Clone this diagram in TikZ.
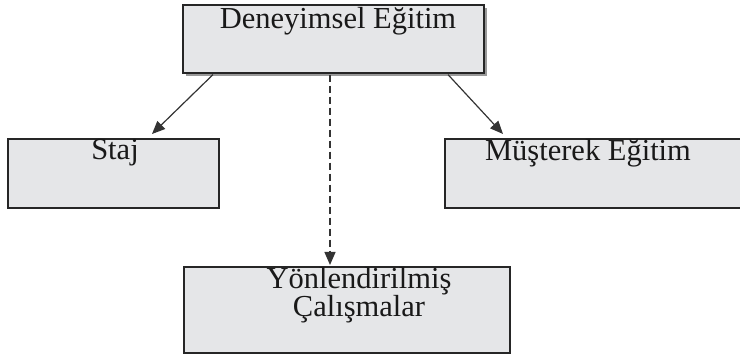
\documentclass[tikz,border=0pt]{standalone}
\usepackage{fontspec}
\setmainfont{Liberation Serif}
\usetikzlibrary{calc,arrows.meta}
\begin{document}
\begin{tikzpicture}[x=1pt,y=-1pt,
  boxstyle/.style={draw=black!85,line width=1.6pt,fill=boxgray,inner sep=0pt,anchor=north west},
  labelstyle/.style={font=\fontsize{30.5}{28}\selectfont,text=black!90,anchor=base,inner sep=0pt,align=center},
  arrowstyle/.style={draw=black!80,line width=1.2pt,-{Triangle[length=13pt,width=11pt]}}]
\definecolor{boxgray}{HTML}{E5E6E8}
\useasboundingbox (0,0) rectangle (740,358);
% shadow of top box
\fill[black!40] (186,8) rectangle (487,76);
\node[boxstyle,minimum width=301pt,minimum height=68pt] (top) at (182,4) {};
\node[boxstyle,minimum width=211pt,minimum height=69pt] (staj) at (7,138) {};
\node[boxstyle,minimum width=310pt,minimum height=69pt] (must) at (444,138) {};
\node[boxstyle,minimum width=326pt,minimum height=86pt] (yon) at (183,266) {};
\node[labelstyle] (ttop) at (338,29) {Deneyimsel Eğitim};
\node[labelstyle] (tstaj) at (115,160) {Staj};
\node[labelstyle] (tmust) at (588,161) {Müşterek Eğitim};
\node[labelstyle] (tyon) at (359,317) {Yönlendirilmiş\\Çalışmalar};
\coordinate (a1) at ($(top.south west)+(31,1)$);
\coordinate (a2) at ($(staj.north west)+(145,-4)$);
\coordinate (b1) at ($(top.south west)+(266,1)$);
\coordinate (b2) at ($(must.north west)+(59,-4)$);
\coordinate (c1) at ($(top.south west)+(148,1)$);
\coordinate (c2) at ($(yon.north west)+(147,-1)$);
\draw[arrowstyle] (a1) -- (a2);
\draw[arrowstyle] (b1) -- (b2);
\draw[arrowstyle,dash pattern=on 7pt off 4pt] (c1) -- (c2);
\end{tikzpicture}
\end{document}
